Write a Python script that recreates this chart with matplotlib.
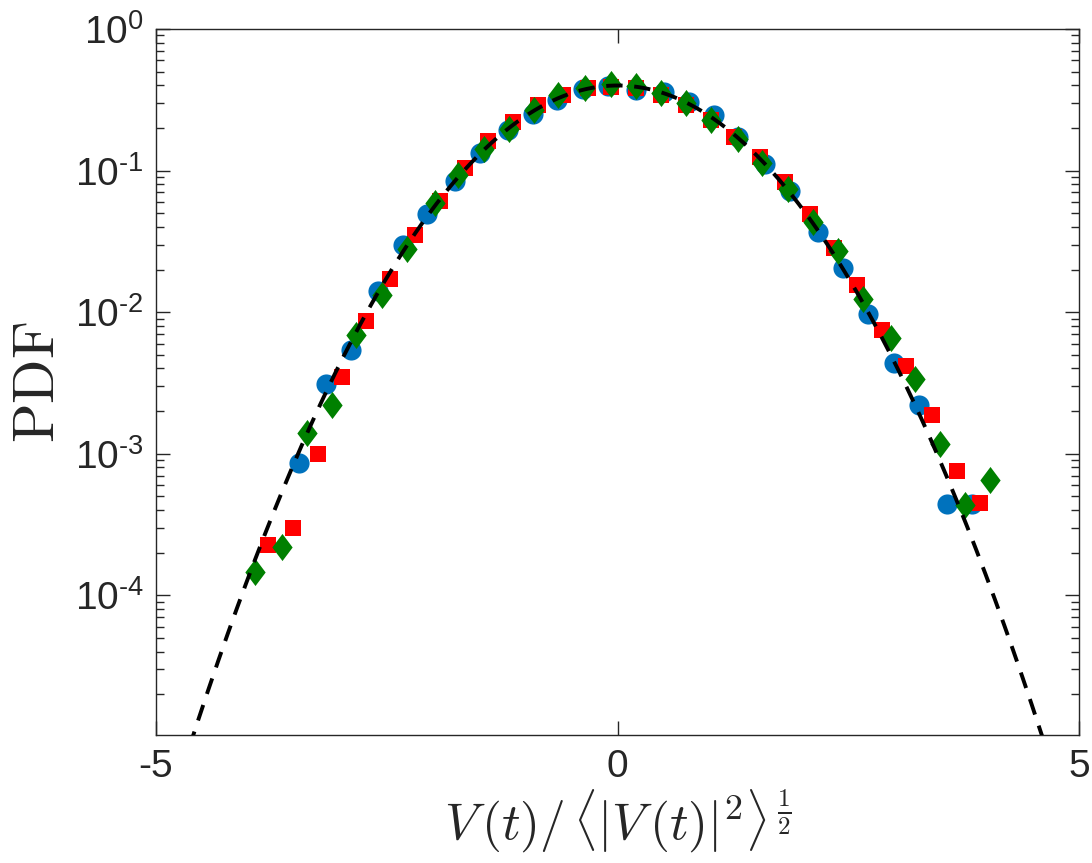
import numpy as np
import matplotlib
matplotlib.use('Agg')
import matplotlib.pyplot as plt
from matplotlib.ticker import LogLocator, NullFormatter, FixedLocator, NullLocator

# data
blue_x = [-3.45, -3.16, -2.89, -2.60, -2.32, -2.06, -1.76, -1.49, -1.19, -0.92, -0.66, -0.37, -0.10,
          0.20, 0.50, 0.77, 1.04, 1.31, 1.60, 1.87, 2.17, 2.44, 2.71, 3.00, 3.27, 3.57, 3.84]
blue_y = [8.6e-4, 3.1e-3, 5.4e-3, 1.42e-2, 2.98e-2, 4.97e-2, 8.5e-2, 0.132, 0.192, 0.252, 0.313, 0.379, 0.394,
          0.369, 0.359, 0.305, 0.245, 0.172, 0.111, 0.0712, 0.0371, 0.0204, 0.0097, 0.0044, 0.0022, 4.4e-4, 4.4e-4]

red_x = [-3.79, -3.52, -3.25, -2.98, -2.73, -2.46, -2.19, -1.92, -1.65, -1.40, -1.13, -0.86, -0.59, -0.32, -0.07,
         0.20, 0.47, 0.74, 1.01, 1.26, 1.54, 1.81, 2.08, 2.35, 2.60, 2.87, 3.13, 3.41, 3.68, 3.93]
red_y = [2.26e-4, 2.99e-4, 9.9e-4, 3.46e-3, 8.6e-3, 1.72e-2, 3.52e-2, 6.05e-2, 0.105, 0.163, 0.220, 0.289, 0.340,
         0.380, 0.390, 0.382, 0.340, 0.289, 0.226, 0.174, 0.124, 0.0826, 0.0493, 0.0286, 0.0155, 0.00753,
         0.00414, 0.00188, 7.5e-4, 4.5e-4]

green_x = [-3.93, -3.64, -3.36, -3.09, -2.83, -2.55, -2.28, -1.98, -1.73, -1.45, -1.18, -0.90, -0.64, -0.35, -0.07,
           0.20, 0.47, 0.74, 1.01, 1.31, 1.57, 1.85, 2.12, 2.39, 2.66, 2.96, 3.22, 3.49, 3.77, 4.04]
green_y = [1.47e-4, 2.21e-4, 1.39e-3, 2.21e-3, 6.95e-3, 1.32e-2, 2.78e-2, 5.86e-2, 9.37e-2, 0.143, 0.198, 0.269,
           0.340, 0.380, 0.407, 0.394, 0.353, 0.300, 0.226, 0.168, 0.113, 0.0741, 0.0430, 0.0271, 0.0123,
           0.00657, 0.00339, 0.00117, 4.37e-4, 6.57e-4]

# reference gaussian (zero mean, unit variance)
mu, sigma = 0.0, 1.0
xg = np.linspace(-5, 5, 801)
yg = np.exp(-(xg - mu) ** 2 / (2 * sigma ** 2)) / (sigma * np.sqrt(2 * np.pi))

x_ticks = [-5, 0, 5]
x_tick_labels = ['-5', '0', '5']
y_ticks = [1e-4, 1e-3, 1e-2, 1e-1, 1e0]
y_tick_labels = [r'$\mathregular{10^{\text{-}4}}$', r'$\mathregular{10^{\text{-}3}}$', r'$\mathregular{10^{\text{-}2}}$',
                 r'$\mathregular{10^{\text{-}1}}$', r'$\mathregular{10^{0}}$']

plt.rcParams['font.family'] = ['Liberation Sans', 'DejaVu Sans']
plt.rcParams['mathtext.fontset'] = 'custom'
plt.rcParams['mathtext.rm'] = 'Liberation Sans'
plt.rcParams['mathtext.it'] = 'Liberation Sans:italic'
plt.rcParams['mathtext.bf'] = 'Liberation Sans:bold'

axcol = '#262626'
fig = plt.figure(figsize=(10.92, 8.63), dpi=100)
ax = fig.add_axes([0.1429, 0.1483, 0.8452, 0.8181])

diamond = [(0, 1), (0.75, 0), (0, -1), (-0.75, 0), (0, 1)]
ax.plot(blue_x, blue_y, 'o', color='#0072BD', markersize=14.5, markeredgewidth=0, zorder=2)
ax.plot(red_x, red_y, 's', color='#FF0000', markersize=11.5, markeredgewidth=0, zorder=3)
ax.plot(green_x, green_y, marker=diamond, linestyle='none', color='#008000', markersize=19.5,
        markeredgewidth=0, zorder=4)
ax.plot(xg, yg, color='black', linewidth=2.8, linestyle=(0, (4.2, 3.0)), zorder=5)

ax.set_yscale('log')
ax.set_xlim(-5, 5)
ax.set_ylim(1.03e-5, 1)

ax.xaxis.set_major_locator(FixedLocator(x_ticks))
ax.xaxis.set_minor_locator(NullLocator())
ax.set_xticklabels(x_tick_labels)
ax.yaxis.set_major_locator(FixedLocator(y_ticks))
ax.set_yticklabels(y_tick_labels)
ax.yaxis.set_minor_locator(LogLocator(base=10, subs=np.arange(2, 10)))
ax.yaxis.set_minor_formatter(NullFormatter())

ax.tick_params(which='both', direction='in', top=True, right=True, colors=axcol,
               labelsize=28, width=1.0)
ax.tick_params(which='major', length=10)
ax.tick_params(which='minor', length=6)
ax.tick_params(axis='x', pad=10)
ax.tick_params(axis='y', pad=9)
for s in ax.spines.values():
    s.set_color(axcol)
    s.set_linewidth(1.0)

ax.set_xlabel(r'$V\,(t)/\,\langle|V\,(t)|^2\rangle^{\,\frac{1}{2}}$', fontsize=37, math_fontfamily='cm',
              color=axcol, labelpad=2)
ax.set_ylabel(r'$\mathrm{PDF}$', fontsize=42, math_fontfamily='cm', color=axcol, labelpad=6)

fig.savefig('out.png', dpi=100)
